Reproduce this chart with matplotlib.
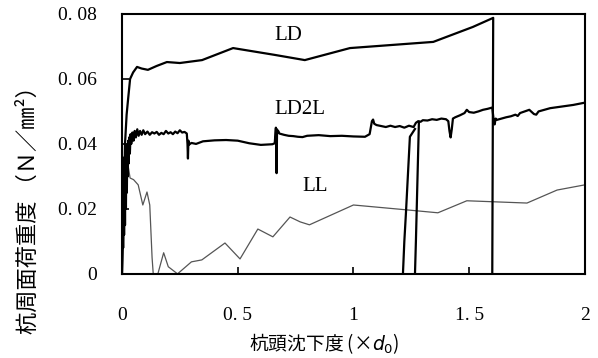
import matplotlib
matplotlib.use('agg')
import matplotlib.pyplot as plt

# ------------- data ------------------------------------------------
# LD : thick solid curve
ld_x = [0.000, 0.008, 0.013, 0.020, 0.026, 0.035, 0.048, 0.065, 0.085,
        0.112, 0.150, 0.194, 0.250, 0.346, 0.480, 0.660, 0.790, 0.985,
        1.345, 1.516, 1.604, 1.600]
ld_y = [0.000, 0.020, 0.040, 0.049, 0.0535, 0.060, 0.062, 0.0637, 0.0632,
        0.0628, 0.0640, 0.0652, 0.0649, 0.0658, 0.0695, 0.0674, 0.0658,
        0.0695, 0.0714, 0.0760, 0.0788, 0.000]

# LD2L : thick noisy curve
ld2l_x = [0.000, 0.003, 0.005, 0.007, 0.009, 0.011, 0.013, 0.015, 0.017,
          0.019, 0.021, 0.023, 0.025, 0.027, 0.029, 0.031, 0.034, 0.037,
          0.040, 0.045, 0.050, 0.055, 0.060, 0.066, 0.072, 0.078, 0.085,
          0.092, 0.100, 0.110, 0.120, 0.130, 0.140, 0.150, 0.160, 0.170,
          0.180, 0.190, 0.200, 0.210, 0.220, 0.230, 0.240, 0.250, 0.260,
          0.270, 0.280, 0.283, 0.285, 0.287, 0.290, 0.300, 0.320, 0.350,
          0.400, 0.450, 0.500, 0.550, 0.600, 0.630, 0.650, 0.660, 0.665,
          0.668, 0.670, 0.672, 0.675, 0.680, 0.690, 0.700, 0.720, 0.740,
          0.760, 0.780, 0.800, 0.850, 0.900, 0.950, 1.000, 1.050, 1.070,
          1.080, 1.085, 1.090, 1.100, 1.120, 1.140, 1.160, 1.180, 1.200,
          1.220, 1.240, 1.260, 1.270, 1.280, 1.290, 1.300, 1.320, 1.340,
          1.360, 1.380, 1.400, 1.410, 1.415, 1.420, 1.425, 1.430, 1.440,
          1.460, 1.480, 1.490, 1.500, 1.520, 1.540, 1.560, 1.580, 1.600,
          1.605, 1.610, 1.615, 1.620, 1.640, 1.660, 1.680, 1.700, 1.710,
          1.720, 1.740, 1.760, 1.780, 1.790, 1.800, 1.850, 1.900, 1.950,
          2.000]
ld2l_y = [0.000, 0.022, 0.008, 0.030, 0.012, 0.036, 0.015, 0.038, 0.020,
          0.039, 0.025, 0.040, 0.030, 0.041, 0.034, 0.042, 0.037, 0.043,
          0.040, 0.0435, 0.041, 0.044, 0.042, 0.0445, 0.0425, 0.044, 0.0428,
          0.0442, 0.0430, 0.0438, 0.0428, 0.0436, 0.0432, 0.0437, 0.0428, 0.0434,
          0.0430, 0.0440, 0.0432, 0.0436, 0.0430, 0.0438, 0.0433, 0.0442, 0.0435,
          0.0437, 0.0432, 0.0400, 0.0355, 0.0410, 0.0398, 0.0403, 0.0400, 0.0408,
          0.0411, 0.0412, 0.0410, 0.0402, 0.0397, 0.0398, 0.0399, 0.0402, 0.0450,
          0.0310, 0.0445, 0.0435, 0.0440, 0.0432, 0.0430, 0.0428, 0.0425, 0.0424,
          0.0422, 0.0421, 0.0425, 0.0427, 0.0424, 0.0425, 0.0423, 0.0422, 0.0430,
          0.0470, 0.0475, 0.0462, 0.0458, 0.0455, 0.0452, 0.0456, 0.0452, 0.0455,
          0.0450, 0.0456, 0.0452, 0.0465, 0.0470, 0.0468, 0.0473, 0.0472, 0.0476,
          0.0474, 0.0478, 0.0476, 0.0470, 0.0440, 0.0420, 0.0445, 0.0478, 0.0482,
          0.0488, 0.0495, 0.0505, 0.0498, 0.0496, 0.0500, 0.0505, 0.0508, 0.0512,
          0.0480, 0.0460, 0.0478, 0.0474, 0.0478, 0.0482, 0.0485, 0.0490, 0.0486,
          0.0495, 0.0500, 0.0505, 0.0492, 0.0490, 0.0500, 0.0510, 0.0515, 0.0520,
          0.0527]

# LD2L unloading / reloading branches near x = 1.25
ld2l_drop_x = [1.283, 1.270, 1.266]
ld2l_drop_y = [0.0468, 0.010, 0.000]
ld2l_rise_x = [1.214, 1.220, 1.227, 1.244, 1.266]
ld2l_rise_y = [0.000, 0.010, 0.0188, 0.0422, 0.0446]

# LL : thin grey curve
ll_x = [0.000, 0.005, 0.010, 0.015, 0.020, 0.025, 0.035, 0.050, 0.070,
        0.090, 0.108, 0.120, 0.130, 0.135, 0.155, 0.180, 0.200, 0.240,
        0.300, 0.345, 0.445, 0.510, 0.587, 0.652, 0.726, 0.770, 0.810,
        1.000, 1.230, 1.365, 1.490, 1.750, 1.880, 2.000]
ll_y = [0.000, 0.020, 0.030, 0.036, 0.032, 0.034, 0.0295, 0.029, 0.0274,
        0.0212, 0.0252, 0.0212, 0.005, 0.000, 0.000, 0.0065, 0.0022, 0.000,
        0.0037, 0.0043, 0.0095, 0.0046, 0.0138, 0.0114, 0.0175, 0.0160, 0.0151,
        0.0212, 0.0197, 0.0188, 0.0225, 0.0218, 0.0258, 0.0274]

x_ticks = [0, 0.5, 1, 1.5, 2]
x_ticklabels = ['0', '0. 5', '1', '1. 5', '2']
y_ticks = [0, 0.02, 0.04, 0.06, 0.08]
y_ticklabels = ['0', '0. 02', '0. 04', '0. 06', '0. 08']

# ----------- figure setup --------------------------------
serif = 'Liberation Serif'
jp = ['Noto Sans CJK JP', 'DejaVu Sans']

fig = plt.figure(figsize=(5.98, 3.58), dpi=100)
ax = fig.add_axes([0.204, 0.235, 0.774, 0.726])

ax.plot(ll_x, ll_y, color='#555555', lw=0.9)
ax.plot(ld_x, ld_y, color='black', lw=1.6)
ax.plot(ld2l_x, ld2l_y, color='black', lw=1.6)
ax.plot(ld2l_drop_x, ld2l_drop_y, color='black', lw=1.6)
ax.plot(ld2l_rise_x, ld2l_rise_y, color='black', lw=1.6)

ax.text(0.72, 0.0735, 'LD', fontsize=15, family=serif, ha='center', va='center')
ax.text(0.77, 0.0505, 'LD2L', fontsize=15, family=serif, ha='center', va='center')
ax.text(0.834, 0.0268, 'LL', fontsize=15, family=serif, ha='center', va='center')

ax.set_xlim(0, 2)
ax.set_ylim(0, 0.08)
ax.set_xticks(x_ticks)
ax.set_xticklabels(x_ticklabels, family=serif, fontsize=14)
ax.set_yticks(y_ticks)
ax.set_yticklabels(y_ticklabels, family=serif, fontsize=14)
ax.tick_params(direction='in', length=5, width=1.2)
ax.tick_params(axis='x', pad=24)
ax.tick_params(axis='y', pad=18)
for s in ax.spines.values():
    s.set_linewidth(1.5)

ax.set_xlabel('杭頭沈下度 (×$\\it{d_0}$)', family=jp, fontsize=13.5, va='top')
ax.xaxis.set_label_coords(0.436, -0.22)
ax.set_ylabel('杭周面荷重度 （Ｎ／㎜²）', family=jp, fontsize=16, va='bottom')
ax.yaxis.set_label_coords(-0.177, 0.265)

plt.savefig('out.png', dpi=100)
